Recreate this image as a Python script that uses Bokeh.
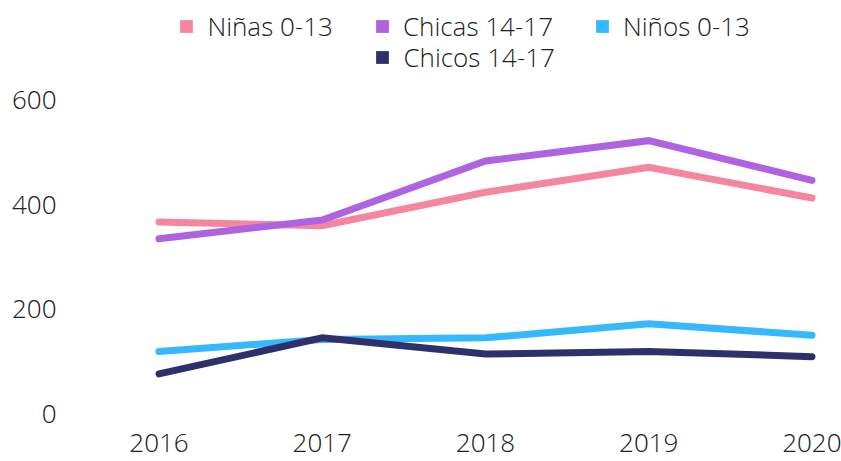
from bokeh.plotting import figure
from bokeh.models import Range1d, FixedTicker, Legend, LegendItem
from bokeh.embed import file_html
from bokeh.resources import INLINE

years = [2016, 2017, 2018, 2019, 2020]
ninas = [367, 360, 424, 472, 413]
chicas = [335, 371, 484, 523, 447]
ninos = [119, 142, 145, 172, 150]
chicos = [76, 145, 114, 119, 109]
y_ticks = [0, 200, 400, 600]

names = ["Niñas 0-13", "Chicas 14-17", "Niños 0-13", "Chicos 14-17"]
series = [ninas, chicas, ninos, chicos]
colors = ["#F4879F", "#AE63E1", "#36B8FE", "#2E3169"]

FONT = "Open Sans Light"
TXT = "#222222"
FS = "26px"

nan = float("nan")

p = figure(width=841, height=461, output_backend="svg", toolbar_location=None,
           x_range=Range1d(2015.5069, 2020.1807), y_range=Range1d(-92.01, 791.69),
           min_border_left=78, min_border_right=0, min_border_top=0, min_border_bottom=0)
p.outline_line_color = None
p.grid.visible = False

for vals, c in zip(series, colors):
    p.line(years, vals, line_color=c, line_width=7, line_cap="round", line_join="miter")

# legend swatches (square)
swatches = []
for c in colors:
    swatches.append(p.quad(left=[nan], right=[nan], top=[nan], bottom=[nan],
                           fill_color=c, line_color=None))

def mk_legend(idx, loc):
    lg = Legend(items=[LegendItem(label=names[i], renderers=[swatches[i]]) for i in idx],
                location=loc, orientation="horizontal",
                glyph_width=16, glyph_height=16, label_standoff=13, spacing=41,
                padding=0, margin=0, border_line_color=None, background_fill_alpha=0,
                label_text_font=FONT, label_text_font_size=FS, label_text_color=TXT)
    p.add_layout(lg, "center")
    return lg

# frame bottom at y=461 px
mk_legend([0, 1, 2], (100.4, 417))
mk_legend([3], (296.4, 386))

xa = p.xaxis[0]
xa.ticker = FixedTicker(ticks=years)
xa.fixed_location = -38.34
xa.axis_line_color = None
xa.major_tick_line_color = None
xa.minor_tick_line_color = None
xa.major_tick_out = 0
xa.major_tick_in = 0
xa.major_label_standoff = 0
xa.major_label_text_font = FONT
xa.major_label_text_font_size = FS
xa.major_label_text_color = TXT

ya = p.yaxis[0]
ya.ticker = FixedTicker(ticks=y_ticks)
ya.axis_line_color = None
ya.major_tick_line_color = None
ya.minor_tick_line_color = None
ya.major_tick_out = 0
ya.major_tick_in = 0
ya.major_label_standoff = 22
ya.major_label_text_font = FONT
ya.major_label_text_font_size = FS
ya.major_label_text_color = TXT

open("out.html", "w").write(file_html(p, INLINE))
